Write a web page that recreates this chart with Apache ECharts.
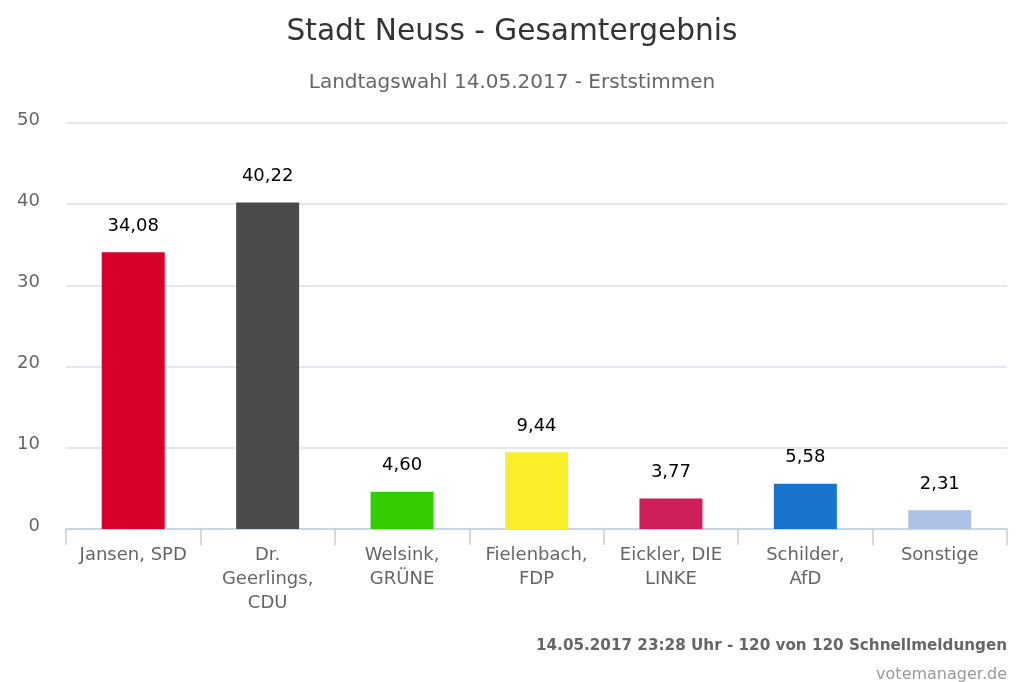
<!DOCTYPE html>
<html>
<head>
<meta charset="utf-8">
<style>html,body{margin:0;padding:0;background:#fff}#chart{width:1024px;height:682px}</style>
<script src="https://cdn.jsdelivr.net/npm/echarts@6/dist/echarts.min.js"></script>
</head>
<body>
<div id="chart"></div>
<script>
var categories = ['Jansen, SPD', 'Dr.\nGeerlings,\nCDU', 'Welsink,\nGRÜNE', 'Fielenbach,\nFDP', 'Eickler, DIE\nLINKE', 'Schilder,\nAfD', 'Sonstige'];
var values = [34.08, 40.22, 4.60, 9.44, 3.77, 5.58, 2.31];
var valueLabels = ['34,08', '40,22', '4,60', '9,44', '3,77', '5,58', '2,31'];
var colors = ['#d7002a', '#4a4a4a', '#33cc00', '#fcee2d', '#cf1f5b', '#1874cd', '#adc0e6'];
var font = 'DejaVu Sans';

var mychart = echarts.init(document.getElementById('chart'), null, {renderer: 'canvas'});
mychart.setOption({
    animation: false,
    textStyle: {fontFamily: font},
    title: [
        {text: 'Stadt Neuss - Gesamtergebnis', left: 'center', top: 12, textStyle: {fontSize: 29.6, fontWeight: 'normal', color: '#333333', fontFamily: font}},
        {text: 'Landtagswahl 14.05.2017 - Erststimmen', left: 'center', top: 68, textStyle: {fontSize: 20, fontWeight: 'normal', color: '#666666', fontFamily: font}},
        {text: '14.05.2017 23:28 Uhr - 120 von 120 Schnellmeldungen', right: 12, top: 634, textStyle: {fontSize: 15.2, fontWeight: 'bold', color: '#666666', fontFamily: font}},
        {text: 'votemanager.de', right: 12, top: 662, textStyle: {fontSize: 16, fontWeight: 'normal', color: '#999999', fontFamily: font}}
    ],
    grid: {left: 66, right: 17, top: 123, bottom: 153},
    xAxis: {
        type: 'category',
        data: categories,
        axisLine: {lineStyle: {color: '#c0d0e0', width: 1.5}},
        axisTick: {show: true, length: 16, lineStyle: {color: '#c0d0e0', width: 1.5}},
        axisLabel: {fontSize: 18, color: '#666666', margin: 14, lineHeight: 24, interval: 0}
    },
    yAxis: {
        type: 'value',
        min: 0,
        max: 50,
        interval: 10,
        axisLine: {show: false},
        axisTick: {show: false},
        splitLine: {lineStyle: {color: '#e4e8ee', width: 2}},
        axisLabel: {fontSize: 18, color: '#666666', margin: 26, verticalAlign: 'bottom', lineHeight: 6}
    },
    series: [{
        type: 'bar',
        barWidth: 63,
        data: values.map(function (v, i) {
            return {value: v, itemStyle: {color: colors[i]}};
        }),
        label: {
            show: true,
            position: 'top',
            distance: 17,
            fontSize: 18,
            color: '#000000',
            formatter: function (p) { return valueLabels[p.dataIndex]; }
        }
    }]
});
</script>
</body>
</html>
